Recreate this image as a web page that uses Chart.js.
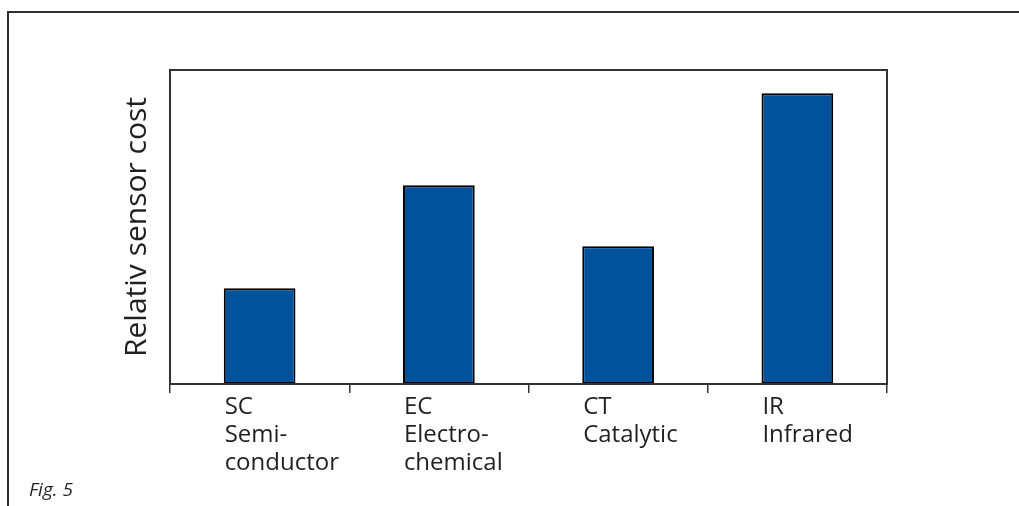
<!DOCTYPE html>
<html>
<head>
<meta charset="utf-8">
<script src="https://cdn.jsdelivr.net/npm/chart.js@4/dist/chart.umd.min.js"></script>
<style>
  html, body { margin: 0; padding: 0; background: #fff; }
  #wrap { position: relative; width: 1019px; height: 506px; overflow: hidden; }
  #frame { position: absolute; left: 7px; top: 11px; width: 1100px; height: 600px;
           border-left: 2px solid #2e2e2e; border-top: 2px solid #2e2e2e; }
  #chart { position: absolute; left: 0; top: 0; }
  #caption { position: absolute; left: 29px; top: 476px; font-family: "Open Sans", sans-serif;
             font-style: italic; font-size: 19px; color: #231f20; line-height: 26px; }
</style>
</head>
<body>
<div id="wrap">
  <div id="frame"></div>
  <canvas id="chart" width="1019" height="506"></canvas>
  <div id="caption">Fig. 5</div>
</div>
<script>
// Sensor types along the x axis (each label is printed on separate lines)
const categories = [
  ["SC", "Semi-", "conductor"],
  ["EC", "Electro-", "chemical"],
  ["CT", "Catalytic"],
  ["IR", "Infrared"]
];
// Relative cost on an arbitrary 0–100 scale
const relativeCost = [30.5, 63.3, 43.9, 92.6];
const yTitle = "Relativ sensor cost";

const ink = "#231f20";
const lineColor = "#333333";

// Outline the whole plotting area
const plotFrame = {
  id: "plotFrame",
  afterDatasetsDraw(chart) {
    const { ctx, chartArea: a } = chart;
    ctx.save();
    ctx.strokeStyle = lineColor;
    ctx.lineWidth = 2;
    ctx.strokeRect(a.left, a.top, a.right - a.left, a.bottom - a.top);
    ctx.restore();
  }
};

new Chart(document.getElementById("chart"), {
  type: "bar",
  data: {
    labels: categories,
    datasets: [{
      data: relativeCost,
      backgroundColor: "#00529b",
      borderColor: "#000000",
      borderWidth: 2,
      borderSkipped: false,
      barPercentage: 0.8,
      categoryPercentage: 0.5
    }]
  },
  options: {
    responsive: false,
    animation: false,
    layout: { padding: { top: 70, right: 132, left: 0, bottom: 0 } },
    plugins: { legend: { display: false }, tooltip: { enabled: false } },
    scales: {
      x: {
        afterFit(scale) { scale.height = 122; },
        border: { display: false },
        grid: { display: true, drawOnChartArea: false, drawTicks: true, tickLength: 9,
                color: lineColor, lineWidth: 1.5, offset: true },
        ticks: {
          align: "start",
          labelOffset: -35,
          padding: 0,
          maxRotation: 0,
          autoSkip: false,
          color: ink,
          font: { family: "Open Sans", size: 24, lineHeight: 1.17 }
        }
      },
      y: {
        min: 0,
        max: 100,
        afterFit(scale) { scale.width = 170; },
        border: { display: false },
        grid: { display: false, drawTicks: false },
        ticks: { display: false },
        title: {
          display: true,
          text: yTitle,
          color: ink,
          font: { family: "Open Sans", size: 30, lineHeight: 1.2 },
          padding: { top: 119, bottom: 0 }
        }
      }
    }
  },
  plugins: [plotFrame]
});
</script>
</body>
</html>
